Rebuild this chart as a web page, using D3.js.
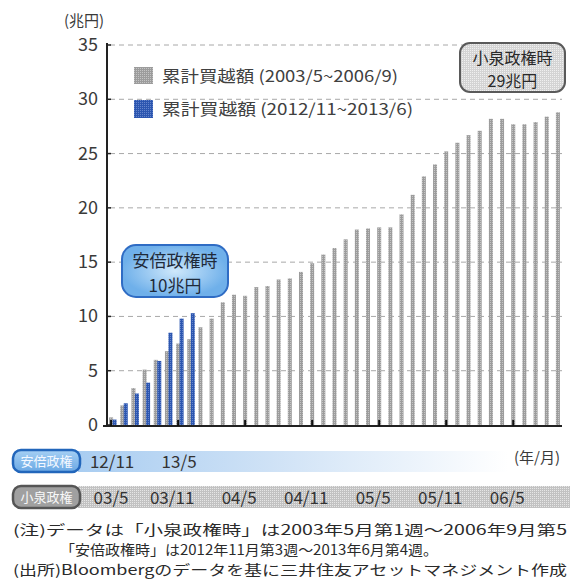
<!DOCTYPE html>
<html><head><meta charset="utf-8">
<script src="https://cdn.jsdelivr.net/npm/d3@7"></script>
<style>
body{margin:0;background:#fff}
svg{display:block}
text{font-family:"Noto Sans CJK JP","Noto Sans",sans-serif}
</style>
</head><body>
<svg id="c" width="570" height="584"></svg>
<script>
// ---- data ----
const koizumiMonths = ["03/5","03/6","03/7","03/8","03/9","03/10","03/11","03/12",
  "04/1","04/2","04/3","04/4","04/5","04/6","04/7","04/8","04/9","04/10","04/11","04/12",
  "05/1","05/2","05/3","05/4","05/5","05/6","05/7","05/8","05/9","05/10","05/11","05/12",
  "06/1","06/2","06/3","06/4","06/5","06/6","06/7","06/8","06/9"];
const koizumiValues = [0.7,1.8,3.4,5.1,6.0,6.8,7.5,7.9,9.0,9.8,11.3,12.0,11.9,12.7,12.8,13.4,13.5,14.1,14.9,15.7,
  16.3,17.1,18.0,18.1,18.2,18.2,19.4,21.2,22.9,24.0,25.2,26.0,26.7,27.1,28.2,28.2,27.7,27.7,27.9,28.4,28.8];
const abeMonths = ["12/11","12/12","13/1","13/2","13/3","13/4","13/5","13/6"];
const abeValues = [0.5,2.0,2.9,3.9,5.9,8.5,9.8,10.3];
const yTicks = [0,5,10,15,20,25,30,35];
const koizumiAxisLabels = ["03/5","03/11","04/5","04/11","05/5","05/11","06/5"];
const abeAxisLabels = ["12/11","13/5"];
const legendLabels = ["累計買越額 (2003/5~2006/9)","累計買越額 (2012/11~2013/6)"];
const koizumiNote = ["小泉政権時","29兆円"];
const abeNote = ["安倍政権時","10兆円"];
const notes = ["(注)データは「小泉政権時」は2003年5月第1週～2006年9月第5",
  "「安倍政権時」は2012年11月第3週～2013年6月第4週。",
  "(出所)Bloombergのデータを基に三井住友アセットマネジメント作成"];

// ---- drawing ----
const svg = d3.select("#c");
const defs = svg.append("defs");

function dotPattern(id, base, dot){
  const p = defs.append("pattern").attr("id",id).attr("width",2).attr("height",2)
    .attr("patternUnits","userSpaceOnUse");
  p.append("rect").attr("width",2).attr("height",2).attr("fill",base);
  p.append("rect").attr("width",1).attr("height",1).attr("fill",dot);
}
dotPattern("pGrey","#9c9c9c","#c4c4c4");
dotPattern("pBlue","#2c56b0","#6585cc");
dotPattern("pBandGrey","#c2c2c2","#e6e6e6");
dotPattern("pBoxGrey","#d4d4d4","#f0f0f0");

const gBlueBand = defs.append("linearGradient").attr("id","gBlueBand");
gBlueBand.append("stop").attr("offset","0").attr("stop-color","#a9cdf1");
gBlueBand.append("stop").attr("offset","0.45").attr("stop-color","#cfe2f6");
gBlueBand.append("stop").attr("offset","1").attr("stop-color","#ffffff");
const gAbeBox = defs.append("radialGradient").attr("id","gAbeBox");
gAbeBox.append("stop").attr("offset","0").attr("stop-color","#cfe8fb");
gAbeBox.append("stop").attr("offset","1").attr("stop-color","#6fb0ea");
const gAbePill = defs.append("linearGradient").attr("id","gAbePill").attr("x1",0).attr("y1",0).attr("x2",0).attr("y2",1);
gAbePill.append("stop").attr("offset","0").attr("stop-color","#a6d0f4");
gAbePill.append("stop").attr("offset","1").attr("stop-color","#6aa8e4");

const x = d3.scaleBand().domain(d3.range(koizumiValues.length)).range([105.5,563.5]);
const cx = i => x(i) + x.bandwidth()/2;
const y = d3.scaleLinear().domain([0,35]).range([425,45]);

// gridlines
svg.append("g").selectAll("line").data(yTicks.filter(d=>d>0)).join("line")
  .attr("x1",110).attr("x2",562).attr("y1",d=>y(d)).attr("y2",d=>y(d))
  .attr("stroke","#a8a8a8").attr("stroke-width",1).attr("stroke-dasharray","5,4");

// y labels
svg.append("g").selectAll("text").data(yTicks).join("text")
  .attr("x",98).attr("y",d=>y(d)+6).attr("text-anchor","end")
  .attr("font-size",18).attr("fill","#3a3a3a").text(d=>d);
svg.append("text").attr("x",64).attr("y",25.5).attr("font-size",15).attr("fill","#3a3a3a").text("(兆円)");

// bars
svg.append("g").selectAll("rect").data(koizumiValues).join("rect")
  .attr("x",(d,i)=>cx(i)-2).attr("width",4)
  .attr("y",d=>y(d)).attr("height",d=>y(0)-y(d)).attr("fill","url(#pGrey)");
svg.append("g").selectAll("rect").data(abeValues).join("rect")
  .attr("x",(d,i)=>cx(i)+1.5).attr("width",4)
  .attr("y",d=>y(d)).attr("height",d=>y(0)-y(d)).attr("fill","url(#pBlue)");

// axes
svg.append("line").attr("x1",107).attr("x2",107).attr("y1",43).attr("y2",426)
  .attr("stroke","#222").attr("stroke-width",2);
svg.append("line").attr("x1",103).attr("x2",562).attr("y1",426).attr("y2",426)
  .attr("stroke","#222").attr("stroke-width",2);
svg.append("g").selectAll("line").data(yTicks).join("line")
  .attr("x1",107).attr("x2",111).attr("y1",d=>y(d)).attr("y2",d=>y(d))
  .attr("stroke","#222").attr("stroke-width",1.5);
svg.append("g").selectAll("line").data(koizumiAxisLabels).join("line")
  .attr("x1",(d,i)=>cx(i*6)).attr("x2",(d,i)=>cx(i*6)).attr("y1",426).attr("y2",420)
  .attr("stroke","#111").attr("stroke-width",2);

// legend
const lg = svg.append("g");
lg.append("rect").attr("x",134).attr("y",67).attr("width",19).attr("height",17).attr("fill","url(#pGrey)");
lg.append("rect").attr("x",134).attr("y",100).attr("width",19).attr("height",18).attr("fill","url(#pBlue)");
lg.selectAll("text").data(legendLabels).join("text")
  .attr("x",162).attr("y",(d,i)=>82+i*33).attr("font-size",16).attr("fill","#404040")
  .attr("textLength",(d,i)=>i===0?236:251).attr("lengthAdjust","spacingAndGlyphs").text(d=>d);

// multi-line helper
function multiline(g, lines, xPos, y0, dy, size, fill, anchor){
  g.selectAll("text.ml").data(lines).join("text").attr("class","ml")
    .attr("font-size",size).attr("fill",fill).attr("text-anchor",anchor)
    .attr("x",xPos).attr("y",(d,i)=>y0+i*dy).text(d=>d);
}

// annotation boxes
const kb = svg.append("g");
kb.append("rect").attr("x",460).attr("y",43).attr("width",105).attr("height",49).attr("rx",10)
  .attr("fill","url(#pBoxGrey)").attr("stroke","#5a5a5a").attr("stroke-width",2);
multiline(kb, koizumiNote, 512.5, 63.8, 23.4, 16, "#2a2a2a", "middle");
const ab = svg.append("g");
ab.append("rect").attr("x",122).attr("y",245).attr("width",106).attr("height",52).attr("rx",14)
  .attr("fill","url(#gAbeBox)").attr("stroke","#2f6cc4").attr("stroke-width",2);
multiline(ab, abeNote, 175, 266.8, 24.8, 17, "#1f2a3a", "middle");

// bottom bands
svg.append("rect").attr("x",78).attr("y",451).attr("width",430).attr("height",21).attr("fill","url(#gBlueBand)");
svg.append("rect").attr("x",78).attr("y",486).attr("width",492).attr("height",22).attr("fill","url(#pBandGrey)");
svg.append("rect").attr("x",13).attr("y",450).attr("width",67).attr("height",22).attr("rx",8)
  .attr("fill","url(#gAbePill)").attr("stroke","#2266bb").attr("stroke-width",2.5);
svg.append("rect").attr("x",13).attr("y",486).attr("width",67).attr("height",22).attr("rx",8)
  .attr("fill","#a0a0a0").attr("stroke","#555").attr("stroke-width",2.5);
svg.append("text").attr("x",46.5).attr("y",466).attr("text-anchor","middle").attr("font-size",13)
  .attr("fill","#f4f8ff").text("安倍政権");
svg.append("text").attr("x",46.5).attr("y",502).attr("text-anchor","middle").attr("font-size",13)
  .attr("fill","#f8f8f8").text("小泉政権");
svg.append("g").selectAll("text").data(abeAxisLabels).join("text")
  .attr("x",(d,i)=>cx(i*6)+1).attr("y",468).attr("text-anchor","middle")
  .attr("font-size",17).attr("fill","#333").text(d=>d);
svg.append("g").selectAll("text").data(koizumiAxisLabels).join("text")
  .attr("x",(d,i)=>cx(i*6)-(i===0?0:6)).attr("y",504).attr("text-anchor","middle")
  .attr("font-size",17).attr("fill","#333").text(d=>d);
svg.append("text").attr("x",560).attr("y",463).attr("text-anchor","end").attr("font-size",15)
  .attr("fill","#3a3a3a").text("(年/月)");

// notes
svg.append("g").selectAll("text").data(notes).join("text")
  .attr("font-size",13.8).attr("fill","#2a2a2a")
  .attr("x",(d,i)=>i===1?60:13).attr("y",(d,i)=>535+i*20)
  .attr("textLength",(d,i)=>i===1?378:554).attr("lengthAdjust","spacingAndGlyphs").text(d=>d);
</script>
</body></html>
